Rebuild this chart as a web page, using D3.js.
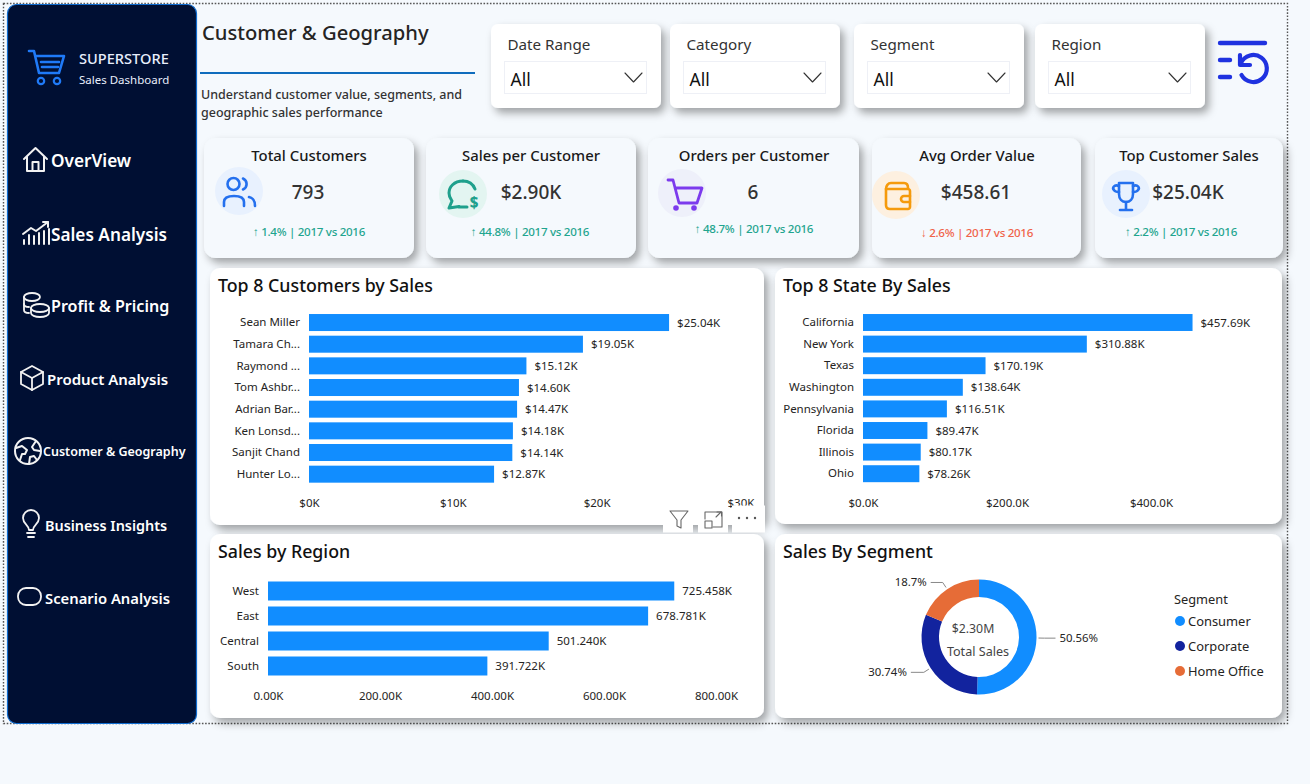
<!DOCTYPE html>
<html>
<head>
<meta charset="utf-8">
<title>Customer & Geography</title>
<script src="https://cdnjs.cloudflare.com/ajax/libs/d3/7.8.5/d3.min.js"></script>
<style>
html, body { margin: 0; padding: 0; background: #f5f9fd; overflow: hidden; }
svg { display: block; }
text { font-family: "Noto Sans", "Open Sans", sans-serif; }
.axis .domain, .axis .tick line { display: none; }
.axis text { font-size: 11.5px; fill: #252423; font-family: "Noto Sans", sans-serif; }
.icon { fill: none; stroke-linecap: round; stroke-linejoin: round; }
</style>
</head>
<body>
<svg id="page" width="1310" height="784"></svg>
<script>
// Chart values
const customers = ["Sean Miller", "Tamara Ch...", "Raymond ...", "Tom Ashbr...", "Adrian Bar...", "Ken Lonsd...", "Sanjit Chand", "Hunter Lo..."];
const customerSales = [25.04, 19.05, 15.12, 14.60, 14.47, 14.18, 14.14, 12.87];
const customerTicks = [0, 10, 20, 30];

const states = ["California", "New York", "Texas", "Washington", "Pennsylvania", "Florida", "Illinois", "Ohio"];
const stateSales = [457.69, 310.88, 170.19, 138.64, 116.51, 89.47, 80.17, 78.26];
const stateTicks = [0, 200, 400];

const regions = ["West", "East", "Central", "South"];
const regionSales = [725.458, 678.781, 501.240, 391.722];
const regionTicks = [0, 200, 400, 600, 800];

const segments = ["Consumer", "Corporate", "Home Office"];
const segmentShares = [50.56, 30.74, 18.7];
const segmentLabels = ["50.56%", "30.74%", "18.7%"];
const segmentColors = ["#118dff", "#12239e", "#e66c37"];

const kpiTitles = ["Total Customers", "Sales per Customer", "Orders per Customer", "Avg Order Value", "Top Customer Sales"];
const kpiValues = ["793", "$2.90K", "6", "$458.61", "$25.04K"];
const kpiDeltas = ["↑ 1.4% | 2017 vs 2016", "↑ 44.8% | 2017 vs 2016", "↑ 48.7% | 2017 vs 2016", "↓ 2.6% | 2017 vs 2016", "↑ 2.2% | 2017 vs 2016"];

const filterNames = ["Date Range", "Category", "Segment", "Region"];
const navLabels = ["OverView", "Sales Analysis", "Profit & Pricing", "Product Analysis", "Customer & Geography", "Business Insights", "Scenario Analysis"];

const BAR_BLUE = "#118dff";
const svg = d3.select("#page");

const defs = svg.append("defs");
const shadow = defs.append("filter").attr("id", "shadow")
    .attr("x", "-10%").attr("y", "-10%").attr("width", "125%").attr("height", "130%");
shadow.append("feDropShadow").attr("dx", 4).attr("dy", 5).attr("stdDeviation", 4)
    .attr("flood-color", "#000").attr("flood-opacity", 0.35);

function label(parent, x, y, str, size, opts = {}) {
    return parent.append("text")
        .attr("x", x).attr("y", y)
        .attr("font-size", size)
        .attr("font-weight", opts.weight || 400)
        .attr("fill", opts.fill || "#252423")
        .attr("text-anchor", opts.anchor || "start")
        .attr("letter-spacing", opts.spacing || null)
        .text(str);
}

function card(x, y, w, h, fill, r = 10) {
    svg.append("rect")
        .attr("x", x).attr("y", y).attr("width", w).attr("height", h)
        .attr("rx", r).attr("fill", fill).attr("filter", "url(#shadow)");
}

function icon(x, y, paths, color, width = 2) {
    const g = svg.append("g").attr("class", "icon")
        .attr("transform", `translate(${x},${y})`)
        .attr("stroke", color).attr("stroke-width", width);
    paths.forEach(d => g.append("path").attr("d", d));
    return g;
}

// ── Frame + sidebar ──────────────────────────
svg.append("rect").attr("x", 3.5).attr("y", 3.5).attr("width", 1284).attr("height", 720)
    .attr("fill", "none").attr("stroke", "#555").attr("stroke-width", 1.4).attr("stroke-dasharray", "1.6 1.6");
svg.append("rect").attr("x", 7.5).attr("y", 4.5).attr("width", 189).attr("height", 719)
    .attr("rx", 9).attr("fill", "#000f33").attr("stroke", "#0f6cd0").attr("stroke-width", 1.2);

icon(28, 50, ["M1 1H6L11 23H30", "M8 6H36L31 23", "M13 12H31", "M14 17H30"], "#1f7af8", 2.6);
svg.append("circle").attr("cx", 41).attr("cy", 81).attr("r", 3.2).attr("fill", "none").attr("stroke", "#1f7af8").attr("stroke-width", 2.2);
svg.append("circle").attr("cx", 57).attr("cy", 81).attr("r", 3.2).attr("fill", "none").attr("stroke", "#1f7af8").attr("stroke-width", 2.2);
label(svg, 79, 64, "SUPERSTORE", 14.6, { fill: "#e8eefc", weight: 500 });
label(svg, 79, 84, "Sales Dashboard", 11.5, { fill: "#e8eefc" });

const navX = [51, 51, 51, 47, 43, 45, 45];
const navY = [167, 241, 312, 385, 456, 531, 604];
const navSize = [17.2, 17.2, 16.1, 15, 12.5, 14.4, 14.8];
navLabels.forEach((d, i) => label(svg, navX[i], navY[i], d, navSize[i], { fill: "#fff", weight: 600 }));

icon(23, 146, ["M1 13L12.500 2L24 13", "M4 11V25H21V11", "M9.500 25V16H15.500V25"], "#f2f2f2", 2);
icon(22, 220, ["M1 14L9 8L14 11L26 2", "M21 2H26V7", "M2 24V20", "M7 24V15", "M12 24V16", "M17 24V13", "M22 24V11", "M27 24V9"], "#f2f2f2", 2);
icon(23, 292, ["M1 5A8 4 0 0 1 17 5A8 4 0 0 1 1 5Z", "M1 5V18C1 20 3 21 6 21", "M1 12C1 14 3 15 6 15", "M8 16A9 4 0 0 1 26 16A9 4 0 0 1 8 16Z", "M8 16V21A9 4 0 0 0 26 21V16"], "#f2f2f2", 1.8);
icon(20, 365, ["M12 1L23 7V19L12 25L1 19V7Z", "M1 7L12 13L23 7", "M12 13V25"], "#f2f2f2", 1.8);
icon(14, 437, ["M27 14A13 13 0 1 1 1 14A13 13 0 1 1 27 14Z", "M2 11L8 9L13 13L11 17L8 17L6 23", "M22 4L18 10L20 13L26 14", "M15 27L16 20L20 19L23 23"], "#f2f2f2", 2);
icon(20, 510, ["M9 20C9 15 3 14 3 8A8 8 0 0 1 19 8C19 14 13 15 13 20Z", "M7 23H15", "M8 27H14"], "#f2f2f2", 1.8);
svg.append("rect").attr("x", 18).attr("y", 588).attr("width", 23).attr("height", 17).attr("rx", 8)
    .attr("fill", "none").attr("stroke", "#f2f2f2").attr("stroke-width", 1.8);

// ── Page header ──────────────────────────
label(svg, 202, 40, "Customer & Geography", 20.2, { fill: "#252423", weight: 500 });
svg.append("line").attr("x1", 200).attr("x2", 475).attr("y1", 73).attr("y2", 73)
    .attr("stroke", "#0f6cbd").attr("stroke-width", 2);
label(svg, 201, 99, "Understand customer value, segments, and", 12.5, { fill: "#333", weight: 500 });
label(svg, 201, 117, "geographic sales performance", 12.5, { fill: "#333", weight: 500 });

// ── Filter cards ──────────────────────────
const filterCardX = [491, 670, 854, 1035];
const filterBoxX = [504, 683, 867, 1048];
filterNames.forEach((d, i) => {
    card(filterCardX[i], 24, 170, 84, "#fff", 7);
    label(svg, filterBoxX[i] + 3.5, 50, d, 15.2, { fill: "#333" });
    svg.append("rect").attr("x", filterBoxX[i] + .5).attr("y", 61.5).attr("width", 142).attr("height", 32)
        .attr("fill", "#fff").attr("stroke", "#eef0f6");
    label(svg, filterBoxX[i] + 6.5, 86, "All", 17.5, { fill: "#111" });
    icon(filterBoxX[i] + 121, 73, ["M0 0L8.500 9L17 0"], "#333", 1.1);
});

icon(1218, 40, ["M2 3H47", "M2 20H12", "M2 37H12"], "#1f32e0", 4.4);
icon(1238, 50, ["M2 5V15H12", "M3 13A13.500 13.500 0 1 1 3.500 25"], "#1f32e0", 4.2);

// ── KPI cards ──────────────────────────
const kpiCardX = [204, 426, 648, 872, 1095];
const kpiCardW = [210, 210, 211, 209, 188];
const kpiTitleX = [309, 531, 754, 977, 1189];
const kpiValueX = [308, 531, 753, 976, 1188];
const kpiDeltaX = [309, 530, 754, 977, 1181];
const kpiDeltaY = [236, 236, 233, 237, 236];
const kpiIconX = [239, 463, 682, 896, 1126];
const kpiIconY = [191, 194, 193, 195, 194];
const kpiIconFill = ["#e8f1fe", "#e3f5f1", "#eef0fa", "#fdf0e0", "#e8f1fe"];

kpiTitles.forEach((d, i) => {
    card(kpiCardX[i], 138, kpiCardW[i], 120, "#f5f9fd", 12);
    label(svg, kpiTitleX[i], 161, d, 14.9, { anchor: "middle", fill: "#1a1a1a", weight: 500 });
    label(svg, kpiValueX[i], 199, kpiValues[i], 19, { anchor: "middle", fill: "#333", weight: 500 });
    label(svg, kpiDeltaX[i], kpiDeltaY[i], kpiDeltas[i], 11.6, { anchor: "middle", fill: i === 3 ? "#f0634a" : "#1fa58f", weight: 500, spacing: -0.3 });
    svg.append("circle").attr("cx", kpiIconX[i]).attr("cy", kpiIconY[i]).attr("r", 24).attr("fill", kpiIconFill[i]);
});

icon(223, 176, ["M16.500 8A6 6 0 1 1 4.500 8A6 6 0 1 1 16.500 8Z", "M20 2.500A6 6 0 0 1 20 13.500", "M1 30V26C1 22 5 20 11 20C17 20 21 22 21 26V30", "M26 21C30 22 32 24 32 30"], "#2470ee", 2.6);
icon(447, 179, ["M16 2C7 2 2 8 2 14C2 18 4 20 5 22L2 29L12 27.500", "M16 2C22 2 26 5 28 10", "M12 28H20"], "#1fa08c", 3);
label(svg, 474, 208, "$", 15, { fill: "#1fa08c", weight: 800, anchor: "middle" });
icon(667, 179, ["M1 1H6L12 24H30L35 9H8"], "#7c3aed", 2.8);
svg.append("circle").attr("cx", 676).attr("cy", 208).attr("r", 2.8).attr("fill", "#7c3aed");
svg.append("circle").attr("cx", 694).attr("cy", 208).attr("r", 2.8).attr("fill", "#7c3aed");
icon(883, 181, ["M3 8V24C3 27 5 28 7 28H25C26 28 27 27 27 26V10C27 9 26 8 25 8H3Z", "M3 8C3 5 5 2 8 2H21C24 2 25 4 25 7", "M27 15H21A3 3 0 0 0 21 21H27"], "#f59a0c", 2.6);
icon(1111, 181, ["M8 2H22V13C22 18 19 21 15 21C11 21 8 18 8 13Z", "M8 5C3 3 1 7 3 9C4 11 6 11 8 11", "M22 5C27 3 29 7 27 9C26 11 24 11 22 11", "M15 21V28", "M9 29H21"], "#2470ee", 2.6);

// ── Chart cards ──────────────────────────
card(210, 268, 554, 257, "#fff", 10);
card(775, 268, 507, 256, "#fff", 10);
card(210, 534, 554, 184, "#fff", 10);
card(775, 534, 507, 184, "#fff", 10);

label(svg, 218, 292, "Top 8 Customers by Sales", 17.8, { fill: "#111", weight: 500 });
label(svg, 783, 292, "Top 8 State By Sales", 17.8, { fill: "#111", weight: 500 });
label(svg, 218, 558, "Sales by Region", 17.8, { fill: "#111", weight: 500 });
label(svg, 783, 558, "Sales By Segment", 17.8, { fill: "#111", weight: 500 });

function barChart({ names, values, ticks, x0, x1, maxValue, y0, y1, inner, outer, axisY, labelGap, fmtValue, fmtTick }) {
    const x = d3.scaleLinear().domain([0, maxValue]).range([x0, x1]);
    const y = d3.scaleBand().domain(names).range([y0, y1]).paddingInner(inner).paddingOuter(outer);
    const g = svg.append("g");

    g.selectAll("rect").data(values).join("rect")
        .attr("x", x(0))
        .attr("y", (d, i) => y(names[i]))
        .attr("width", d => x(d) - x(0))
        .attr("height", y.bandwidth())
        .attr("fill", BAR_BLUE);

    g.selectAll("text.value").data(values).join("text")
        .attr("class", "value")
        .attr("x", d => x(d) + labelGap)
        .attr("y", (d, i) => y(names[i]) + y.bandwidth() / 2)
        .attr("dy", "0.35em")
        .attr("font-size", 11.5)
        .attr("fill", "#252423")
        .text(fmtValue);

    svg.append("g").attr("class", "axis")
        .attr("transform", `translate(${x0 - 1},0)`)
        .call(d3.axisLeft(y).tickSize(0).tickPadding(8));

    svg.append("g").attr("class", "axis")
        .attr("transform", `translate(0,${axisY})`)
        .call(d3.axisBottom(x).tickValues(ticks).tickSize(0).tickPadding(0).tickFormat(fmtTick));
}

barChart({
    names: customers, values: customerSales, ticks: customerTicks,
    x0: 309, x1: 740.4, maxValue: 30, y0: 311.7, y1: 485, inner: 0.215, outer: 0.1075,
    axisY: 499, labelGap: 8,
    fmtValue: d => `$${d.toFixed(2)}K`, fmtTick: d => `$${d}K`
});
barChart({
    names: states, values: stateSales, ticks: stateTicks,
    x0: 863, x1: 1151, maxValue: 400, y0: 311.7, y1: 484.5, inner: 0.215, outer: 0.1075,
    axisY: 499, labelGap: 8,
    fmtValue: d => `$${d.toFixed(2)}K`, fmtTick: d => `$${d.toFixed(1)}K`
});
barChart({
    names: regions, values: regionSales, ticks: regionTicks,
    x0: 268, x1: 716, maxValue: 800, y0: 578.5, y1: 678.5, inner: 0.24, outer: 0.12,
    axisY: 692, labelGap: 8,
    fmtValue: d => `${d.toFixed(3)}K`, fmtTick: d => `${d.toFixed(2)}K`
});

// Visual header hover strip covers the end of the customer axis
[[663, 30], [698, 30], [732, 33]].forEach(([x, w]) => {
    svg.append("rect").attr("x", x).attr("y", 505.5).attr("width", w).attr("height", 27).attr("fill", "#fff");
});
icon(669, 510, ["M1 1H19L12 10V18L8 16V10Z"], "#666", 1.1);
icon(704, 511, ["M1 8V1H18V16H9", "M1 10H8V17H1Z", "M12 6L17 1", "M13 1H17.500V5"], "#666", 1.1);
[739, 747, 755].forEach(cx => svg.append("circle").attr("cx", cx).attr("cy", 518).attr("r", 1.2).attr("fill", "#555"));

// ── Donut ──────────────────────────
const donutCx = 979, donutCy = 637, outerR = 57.5, innerR = 40;
const pie = d3.pie().sort(null)(segmentShares);
const arc = d3.arc().innerRadius(innerR).outerRadius(outerR);
const donut = svg.append("g").attr("transform", `translate(${donutCx},${donutCy})`);

donut.selectAll("path").data(pie).join("path")
    .attr("d", arc)
    .attr("fill", (d, i) => segmentColors[i]);

const leaderStart = d3.arc().innerRadius(outerR + 2).outerRadius(outerR + 2);
const leaderElbow = d3.arc().innerRadius(outerR + 8).outerRadius(outerR + 8);
const leaderLen = [11, 13, 12];

pie.forEach((d, i) => {
    const a = leaderStart.centroid(d), b = leaderElbow.centroid(d);
    const dir = b[0] > 0 ? 1 : -1;
    const end = [b[0] + dir * leaderLen[i], b[1]];
    donut.append("polyline")
        .attr("points", [a, b, end].map(p => p.join(",")).join(" "))
        .attr("fill", "none").attr("stroke", "#888").attr("stroke-width", 1);
    label(donut, end[0] + dir * 4, end[1] + 4, segmentLabels[i], 11.4, { anchor: dir > 0 ? "start" : "end" });
});

label(svg, 973, 633, "$2.30M", 12.3, { anchor: "middle", fill: "#444" });
label(svg, 978, 656, "Total Sales", 12.6, { anchor: "middle", fill: "#444" });

label(svg, 1174, 604, "Segment", 12.8, { fill: "#252423" });
const legendY = [621, 646, 671];
segments.forEach((d, i) => {
    svg.append("circle").attr("cx", 1180).attr("cy", legendY[i]).attr("r", 5).attr("fill", segmentColors[i]);
    label(svg, 1188, legendY[i] + 5, d, 12.9, { fill: "#252423" });
});
</script>
</body>
</html>
